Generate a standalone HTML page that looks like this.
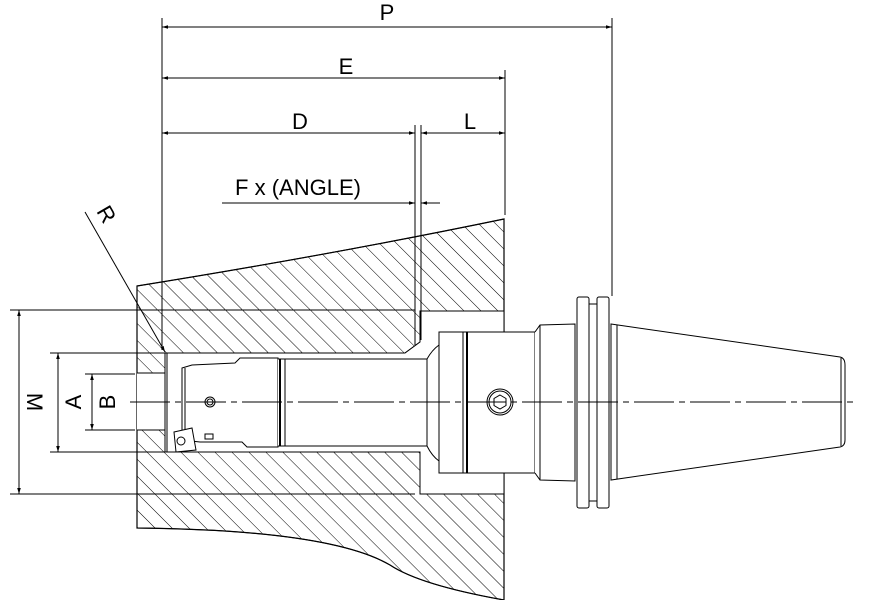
<!DOCTYPE html>
<html><head><style>body{margin:0;background:#fff}svg{display:block}</style></head><body>
<svg width="876" height="600" viewBox="0 0 876 600" xmlns="http://www.w3.org/2000/svg" font-family="Liberation Sans, sans-serif">
<defs>
<pattern id="h" patternUnits="userSpaceOnUse" width="12" height="12" patternTransform="rotate(-45)">
<line x1="0" y1="0" x2="0" y2="12" stroke="#000" stroke-width="1"/>
</pattern>
<marker id="a" viewBox="0 0 10 10" refX="10" refY="5" markerWidth="9" markerHeight="6" orient="auto-start-reverse"><path d="M0,2 L10,5 L0,8z" fill="#000"/></marker>
</defs>
<g stroke="#000" fill="none" stroke-width="1">
<path fill="url(#h)" fill-rule="evenodd" d="M137,286 Q330,255 504,219 L504,600 Q420,585 390,565 Q330,530 137,528 Z
M165,353 L405,353 L420,342 L420,311 L504,311 L504,494 L420,494 L420,452 L165,452 Z
M137,373 L165,373 L165,430 L137,430 Z"/>
<path d="M137,286 Q330,255 504,219 L504,600 Q420,585 390,565 Q330,530 137,528 Z" stroke-width="1.2"/>
<path d="M165,353 L405,353 L420,342 L420,311 L504,311 L504,494 L420,494 L420,452 L165,452 Z" fill="#fff"/>
<path d="M137,373 L165,373 L165,430 L137,430" fill="#fff"/>
<line x1="167" y1="353" x2="167" y2="452"/>
<path d="M182,368 L192,365 L235,363 L240,358 L278,358 L278,447 L247,447 L242,442 L200,442 L182,440 Z" fill="#fff"/>
<line x1="185" y1="368" x2="185" y2="440"/>
<circle cx="210" cy="402" r="5"/><circle cx="210" cy="402" r="3"/>
<path d="M174,432 L192,428 L196,450 L176,452 Z" fill="#fff"/><circle cx="181" cy="441" r="4"/>
<rect x="205" y="434" width="8" height="5"/>
<path d="M278,359 L427,359 L427,446 L278,446" fill="#fff"/>
<line x1="280" y1="359" x2="280" y2="446" stroke-width="2"/>
<line x1="285" y1="359" x2="285" y2="446"/>
<path d="M427,359 Q432,350 439,345 M427,446 Q432,456 439,461"/>
<rect x="439" y="332" width="96" height="141" fill="#fff"/>
<line x1="463" y1="332" x2="463" y2="473"/><line x1="467" y1="332" x2="467" y2="473" stroke-width="2"/>
<circle cx="500" cy="402" r="13"/><circle cx="500" cy="402" r="11"/>
<path d="M500,395 L506,398.5 L506,405.5 L500,409 L494,405.5 L494,398.5 Z"/>
<path d="M535,332 L540,325 L575,324 L575,481 L540,480 L535,473" fill="#fff"/>
<line x1="540" y1="325" x2="540" y2="480"/>
<rect x="577" y="297" width="12" height="211" rx="2" fill="#fff"/>
<rect x="589" y="304" width="8" height="197" fill="#fff"/>
<rect x="597" y="297" width="12" height="211" rx="2" fill="#fff"/>
<path d="M611,324 L840,357 Q845,358 845,365 L845,440 Q845,446 840,447 L611,480 Z" fill="#fff"/>
<line x1="617" y1="325" x2="617" y2="479"/>
<line x1="841" y1="358" x2="841" y2="446"/>
<line x1="130" y1="402" x2="856" y2="402" stroke-dasharray="40,5,6,5" stroke-width="0.9"/>
<line x1="162" y1="18" x2="162" y2="350"/>
<line x1="612" y1="18" x2="612" y2="296"/>
<line x1="505" y1="70" x2="505" y2="215"/>
<line x1="415" y1="125" x2="415" y2="345"/>
<line x1="421" y1="125" x2="421" y2="340"/>
<line x1="10" y1="310" x2="415" y2="310"/>
<line x1="10" y1="494" x2="415" y2="494"/>
<line x1="50" y1="353" x2="165" y2="353"/>
<line x1="50" y1="452" x2="165" y2="452"/>
<line x1="85" y1="374" x2="135" y2="374"/>
<line x1="85" y1="430" x2="135" y2="430"/>
<line x1="162" y1="27" x2="612" y2="27" marker-start="url(#a)" marker-end="url(#a)"/>
<line x1="162" y1="78" x2="505" y2="78" marker-start="url(#a)" marker-end="url(#a)"/>
<line x1="162" y1="133" x2="415" y2="133" marker-start="url(#a)" marker-end="url(#a)"/>
<line x1="421" y1="133" x2="505" y2="133" marker-start="url(#a)" marker-end="url(#a)"/>
<line x1="222" y1="203" x2="397" y2="203"/>
<line x1="395" y1="203" x2="415" y2="203" marker-end="url(#a)"/>
<line x1="440" y1="203" x2="421" y2="203" marker-end="url(#a)"/>
<line x1="19" y1="310" x2="19" y2="494" marker-start="url(#a)" marker-end="url(#a)"/>
<line x1="58" y1="353" x2="58" y2="452" marker-start="url(#a)" marker-end="url(#a)"/>
<line x1="92" y1="374" x2="92" y2="430" marker-start="url(#a)" marker-end="url(#a)"/>
<line x1="85" y1="212" x2="165" y2="352" marker-end="url(#a)"/>
</g>
<g font-size="22" fill="#000" text-anchor="middle">
<text x="387" y="20">P</text>
<text x="346" y="74">E</text>
<text x="300" y="129">D</text>
<text x="470" y="129">L</text>
<text x="298" y="195">F x (ANGLE)</text>
<text transform="translate(27,402) rotate(90)">M</text>
<text transform="translate(81,402) rotate(-90)">A</text>
<text transform="translate(115,402) rotate(-90)">B</text>
<text transform="translate(100,218) rotate(60)">R</text>
</g>
</svg>
</body></html>
